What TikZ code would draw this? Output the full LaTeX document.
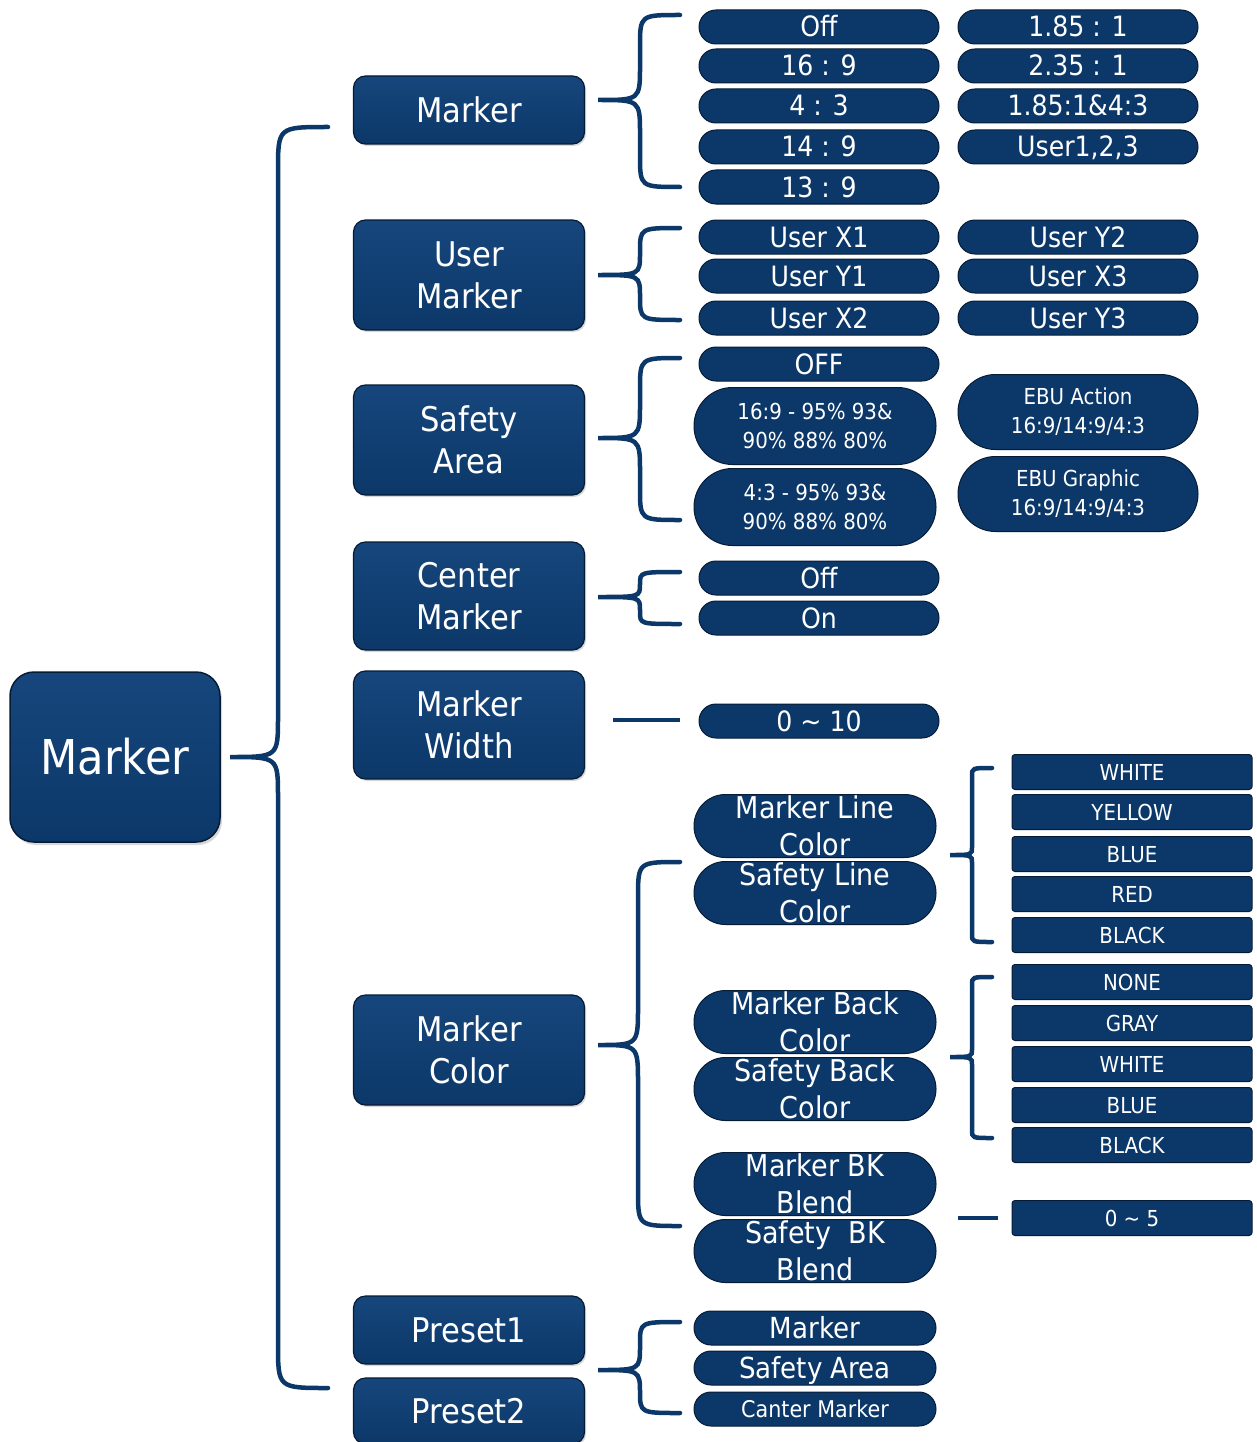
\documentclass[tikz,border=0pt]{standalone}
\usepackage{fontspec}
\setmainfont{DejaVu Sans}[FakeStretch=0.9]
\usetikzlibrary{shapes.misc,calc,shadows}
\definecolor{navy}{RGB}{12,56,105}
\definecolor{navyl}{RGB}{22,70,124}
\definecolor{navyd}{RGB}{6,28,54}
\newcommand\fs[2]{\fontsize{#1}{#2}\selectfont}
% curly brace: #1 tip, #2 top end, #3 bottom end, #4 vertical offset, #5 end radius, #6 tip radius
\newcommand\cbrace[6]{\draw[brc] let \p1=(#1),\p2=(#2),\p3=(#3) in
 (\x2,\y2) .. controls (\x1+#4,\y2) .. (\x1+#4,\y2-#5) -- (\x1+#4,\y1+#6)
 .. controls (\x1+#4,\y1) .. (\x1,\y1) .. controls (\x1+#4,\y1) .. (\x1+#4,\y1-#6)
 -- (\x1+#4,\y3+#5) .. controls (\x1+#4,\y3) .. (\x3,\y3);}
\begin{document}
\begin{tikzpicture}[x=1pt,y=-1pt,
 brc/.style={draw=navy, line width=4.5pt, line cap=round},
 mainbox/.style={draw=navyd, line width=1.5pt, top color=navyl, bottom color=navy, rounded corners=24pt,
   minimum width=210pt, minimum height=170pt, text=white, font=\fs{48}{56}, inner sep=0pt,
   drop shadow={opacity=0.3, shadow xshift=2pt, shadow yshift=-3pt}},
 lvtwo/.style={draw=navyd, line width=1.2pt, top color=navyl, bottom color=navy, rounded corners=12pt,
   minimum width=231pt, text=white, font=\fs{34}{42}, align=center, inner sep=0pt,
   drop shadow={opacity=0.3, shadow xshift=1.5pt, shadow yshift=-2pt}},
 pill/.style={rounded rectangle, draw=navyd, line width=1pt, fill=navy, minimum width=240pt,
   minimum height=34pt, inner sep=0pt, text=white, font=\fs{28}{32}, text height=20pt, text depth=0pt},
 pilltwo/.style={rounded rectangle, draw=navyd, line width=1pt, fill=navy, minimum width=242pt,
   minimum height=77pt, inner sep=0pt, text=white, font=\fs{22}{29}, align=center},
 cpill/.style={rounded rectangle, draw=navyd, line width=1pt, fill=navy, minimum width=242pt,
   minimum height=63pt, inner sep=0pt},
 ctext/.style={text=white, font=\fs{30}{37}, align=center, inner sep=0pt},
 srect/.style={draw=navyd, line width=1pt, fill=navy, rounded corners=3pt, minimum width=240pt,
   minimum height=35pt, inner sep=0pt, text=white, font=\fs{22}{26}, text height=16pt, text depth=0pt},
]
\fill[white] (0,0) rectangle (1256,1442);
\useasboundingbox (0,0) rectangle (1256,1442);

% root
\node[mainbox] (root) at (115,757) {Marker};

% level 2
\node[lvtwo, minimum height=68pt] (m) at (469,110) {Marker};
\node[lvtwo, minimum height=110pt] (um) at (469,275) {User\\Marker};
\node[lvtwo, minimum height=110pt] (sa) at (469,440) {Safety\\Area};
\node[lvtwo, minimum height=108pt] (cm) at (469,596) {Center\\Marker};
\node[lvtwo, minimum height=108pt] (mw) at (469,725) {Marker\\Width};
\node[lvtwo, minimum height=110pt] (mc) at (469,1050) {Marker\\Color};
\node[lvtwo, minimum height=68pt] (p1) at (469,1330) {Preset1};
\node[lvtwo, minimum height=66pt] (p2) at (469,1411) {Preset2};

% Marker leaves
\node[pill] (a1) at (819,27) {Off};
\node[pill] (a2) at (819,66) {16 : 9};
\node[pill] (a3) at (819,106) {4 : 3};
\node[pill] (a4) at (819,147) {14 : 9};
\node[pill] (a5) at (819,187) {13 : 9};
\node[pill] (b1) at (1078,27) {1.85 : 1};
\node[pill] (b2) at (1078,66) {2.35 : 1};
\node[pill] (b3) at (1078,106) {1.85:1\&4:3};
\node[pill] (b4) at (1078,147) {User1,2,3};

% User marker leaves
\node[pill] (u1) at (819,237) {User X1};
\node[pill] (u2) at (819,276) {User Y1};
\node[pill] (u3) at (819,318) {User X2};
\node[pill] (u4) at (1078,237) {User Y2};
\node[pill] (u5) at (1078,276) {User X3};
\node[pill] (u6) at (1078,318) {User Y3};

% Safety area leaves
\node[pill] (s1) at (819,364) {OFF};
\node[pilltwo] (s2) at (815,426) {16:9 - 95\% 93\&\\90\% 88\% 80\%};
\node[pilltwo] (s3) at (815,507) {4:3 - 95\% 93\&\\90\% 88\% 80\%};
\node[pilltwo, minimum width=240pt, minimum height=75pt] (s4) at (1078,412) {EBU Action\\16:9/14:9/4:3};
\node[pilltwo, minimum width=240pt, minimum height=75pt] (s5) at (1078,494) {EBU Graphic\\16:9/14:9/4:3};

% Center marker leaves
\node[pill] (c1) at (819,578) {Off};
\node[pill] (c2) at (819,618) {On};

% Marker width leaf
\node[pill] (w1) at (819,721) {0 \textasciitilde{} 10};

% Marker color leaves
\node[cpill] (k1) at (815,826) {};
\node[cpill] (k2) at (815,893) {};
\node[cpill] (k3) at (815,1022) {};
\node[cpill] (k4) at (815,1089) {};
\node[cpill] (k5) at (815,1184) {};
\node[cpill] (k6) at (815,1251) {};
\node[ctext] (t1) at (k1) {Marker Line\\Color};
\node[ctext] (t2) at (k2) {Safety Line\\Color};
\node[ctext] (t3) at (k3) {Marker Back\\Color};
\node[ctext] (t4) at (k4) {Safety Back\\Color};
\node[ctext] (t5) at (k5) {Marker BK\\Blend};
\node[ctext] (t6) at (k6) {Safety\ \ BK\\Blend};

% color options
\node[srect] (r1) at (1132,772) {WHITE};
\node[srect] (r2) at (1132,812) {YELLOW};
\node[srect] (r3) at (1132,854) {BLUE};
\node[srect] (r4) at (1132,894) {RED};
\node[srect] (r5) at (1132,935) {BLACK};
\node[srect] (g1) at (1132,982) {NONE};
\node[srect] (g2) at (1132,1023) {GRAY};
\node[srect] (g3) at (1132,1064) {WHITE};
\node[srect] (g4) at (1132,1105) {BLUE};
\node[srect] (g5) at (1132,1145) {BLACK};
\node[srect] (z1) at (1132,1218) {0 \textasciitilde{} 5};

% preset leaves
\node[pill, minimum width=242pt, font=\fs{29}{32}] (q1) at (815,1328) {Marker};
\node[pill, minimum width=242pt, font=\fs{29}{32}] (q2) at (815,1368) {Safety Area};
\node[pill, minimum width=242pt, font=\fs{23}{28}, text height=16pt] (q3) at (815,1409) {Canter Marker};

% brace coordinates
\coordinate (R0) at (230,757);  \coordinate (R1) at (328,127);  \coordinate (R2) at (328,1388);
\coordinate (M0) at (598,100);  \coordinate (M1) at (680,15);   \coordinate (M2) at (680,187);
\coordinate (U0) at (598,275);  \coordinate (U1) at (680,228);  \coordinate (U2) at (680,320);
\coordinate (S0) at (598,438);  \coordinate (S1) at (680,358);  \coordinate (S2) at (680,520);
\coordinate (C0) at (598,597);  \coordinate (C1) at (680,572);  \coordinate (C2) at (680,624);
\coordinate (K0) at (598,1045); \coordinate (K1) at (680,862);  \coordinate (K2) at (680,1226);
\coordinate (P0) at (598,1370); \coordinate (P1) at (680,1322); \coordinate (P2) at (680,1413);
\coordinate (L0) at (950,855);  \coordinate (L1) at (992,768);  \coordinate (L2) at (992,942);
\coordinate (B0) at (950,1057); \coordinate (B1) at (992,977);  \coordinate (B2) at (992,1138);
\coordinate (W0) at (613,720);  \coordinate (W1) at (680,720);
\coordinate (Z0) at (958,1218); \coordinate (Z1) at (998,1218);

\cbrace{R0}{R1}{R2}{48pt}{44pt}{40pt}
\cbrace{M0}{M1}{M2}{42pt}{32pt}{34pt}
\cbrace{U0}{U1}{U2}{42pt}{24pt}{22pt}
\cbrace{S0}{S1}{S2}{42pt}{32pt}{34pt}
\cbrace{C0}{C1}{C2}{42pt}{12pt}{13pt}
\cbrace{K0}{K1}{K2}{40pt}{36pt}{38pt}
\cbrace{P0}{P1}{P2}{42pt}{22pt}{24pt}
\cbrace{L0}{L1}{L2}{22pt}{8pt}{8pt}
\cbrace{B0}{B1}{B2}{22pt}{8pt}{8pt}
\draw[brc, line cap=butt] (W0) -- (W1);
\draw[brc, line cap=butt] (Z0) -- (Z1);
\end{tikzpicture}
\end{document}
